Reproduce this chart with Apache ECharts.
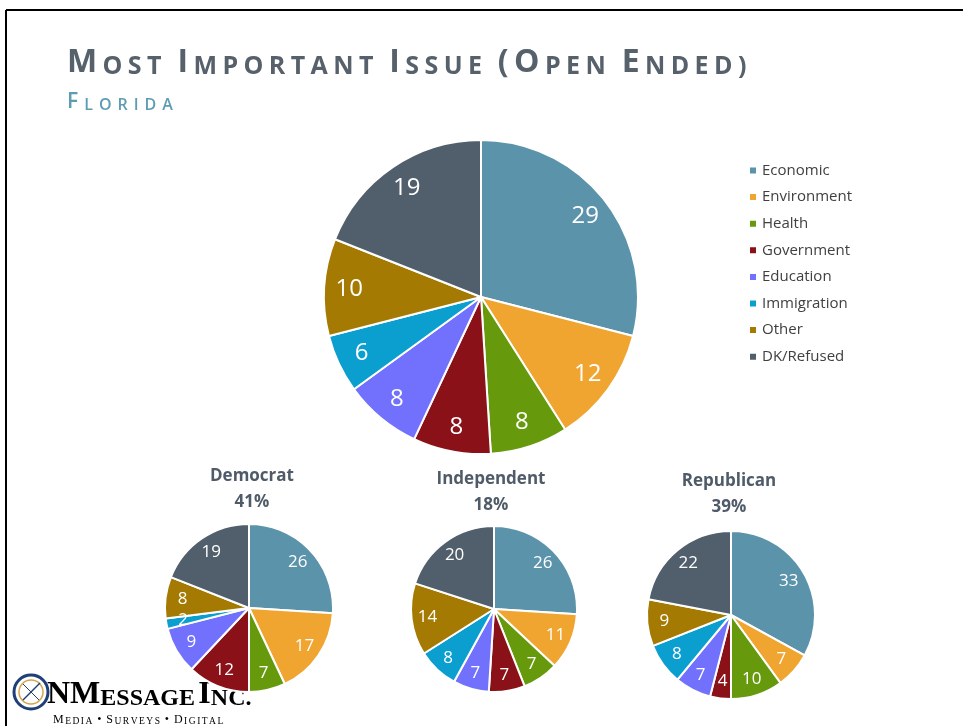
<!DOCTYPE html>
<html>
<head>
<meta charset="utf-8">
<script src="https://cdn.jsdelivr.net/npm/echarts@6/dist/echarts.min.js"></script>
<style>
  html, body { margin: 0; padding: 0; background: #fff; }
  #chart { width: 963px; height: 726px; }
</style>
</head>
<body>
<div id="chart"></div>
<script>
// 最重要议题（开放式）- 佛罗里达，总体 + 按党派
const categories = ['Economic', 'Environment', 'Health', 'Government', 'Education', 'Immigration', 'Other', 'DK/Refused'];
const palette = ['#5b93ab', '#f0a530', '#669a0c', '#8b1119', '#7171fd', '#0b9fd0', '#a47a02', '#515e6b'];

const florida = [29, 12, 8, 8, 8, 6, 10, 19];
const democrat = [26, 17, 7, 12, 9, 2, 8, 19];
const independent = [26, 11, 7, 7, 7, 8, 14, 20];
const republican = [33, 7, 10, 4, 7, 8, 9, 22];

const groupNames = ['Democrat', 'Independent', 'Republican'];
const groupShares = ['41%', '18%', '39%'];

const FONT = 'Open Sans';
const chart = echarts.init(document.getElementById('chart'));

function toData(values) {
    return values.map((v, i) => ({ name: categories[i], value: v }));
}

// 小型大写字母：每个词首字母用大号，其余用小号，逐字加间距
function smallCaps(str, bigSet) {
    let out = '';
    let wordStart = true;
    for (const ch of str) {
        if (ch === ' ') { out += '{sp| }'; wordStart = true; continue; }
        const big = wordStart || bigSet.includes(ch);
        out += (big ? '{b|' : '{s|') + ch.toUpperCase() + '}';
        if (ch !== '(') wordStart = false;
    }
    return out;
}

// 可见的饼图
function pieSeries(values, center, r) {
    return {
        type: 'pie',
        center: center,
        radius: [0, r],
        startAngle: 90,
        clockwise: true,
        silent: true,
        label: { show: false },
        labelLine: { show: false },
        itemStyle: { borderColor: '#fff', borderWidth: 2 },
        data: toData(values)
    };
}

// 透明的放大饼图，只用来把数字放到外圈附近
function labelSeries(values, center, r, size) {
    return {
        type: 'pie',
        center: center,
        radius: [0, r],
        startAngle: 90,
        clockwise: true,
        silent: true,
        z: 5,
        itemStyle: { color: 'rgba(0,0,0,0)', borderWidth: 0 },
        label: {
            show: true,
            position: 'inside',
            formatter: '{c}',
            color: '#fff',
            fontFamily: FONT,
            fontSize: size
        },
        labelLine: { show: false },
        data: toData(values)
    };
}

const pies = [
    { values: florida, center: [481, 297], r: 157, lr: 258, size: 24 },
    { values: democrat, center: [249, 608], r: 84, lr: 128, size: 17 },
    { values: independent, center: [494, 609], r: 83, lr: 128, size: 17 },
    { values: republican, center: [731, 615], r: 84, lr: 128, size: 17 }
];

const series = [];
pies.forEach(p => series.push(pieSeries(p.values, p.center, p.r)));
pies.forEach(p => series.push(labelSeries(p.values, p.center, p.lr, p.size)));

const groupX = [252, 491, 729];
const groupY = [476, 479, 481];
const groupText = [];
groupNames.forEach((g, i) => {
    groupText.push({
        type: 'text', x: groupX[i], y: groupY[i],
        style: { text: g, fill: '#4f5b68', font: 'bold 17px "Open Sans"', textAlign: 'center', textVerticalAlign: 'middle' }
    });
    groupText.push({
        type: 'text', x: groupX[i], y: groupY[i] + 26,
        style: { text: groupShares[i], fill: '#4f5b68', font: 'bold 17px "Open Sans"', textAlign: 'center', textVerticalAlign: 'middle' }
    });
});

const titleColor = '#57616c';
const subColor = '#5e9cb4';
const logoColor = '#1e3f78';

const option = {
    color: palette,
    animation: false,
    title: [{
        text: smallCaps('Most Important Issue (Open Ended)', ['(']),
        left: 67,
        top: 47,
        padding: 0,
        textStyle: {
            rich: {
                b: { fontFamily: FONT, fontSize: 32, color: titleColor, verticalAlign: 'bottom', padding: [0, 5.4, 0, 0] },
                s: { fontFamily: FONT, fontSize: 25, color: titleColor, verticalAlign: 'bottom', padding: [0, 5.4, 0, 0] },
                sp: { fontFamily: FONT, fontSize: 25, color: titleColor, verticalAlign: 'bottom', padding: [0, 4, 0, 0] }
            }
        }
    }, {
        text: smallCaps('Florida', []),
        left: 67,
        top: 92,
        padding: 0,
        textStyle: {
            rich: {
                b: { fontFamily: FONT, fontSize: 21, fontWeight: 600, color: subColor, verticalAlign: 'bottom', padding: [0, 6, 0, 0] },
                s: { fontFamily: FONT, fontSize: 16, fontWeight: 600, color: subColor, verticalAlign: 'bottom', padding: [0, 6, 0, 0] },
                sp: { fontFamily: FONT, fontSize: 16, color: subColor }
            }
        }
    }],
    legend: {
        orient: 'vertical',
        left: 743,
        top: 156,
        icon: 'rect',
        itemWidth: 8,
        itemHeight: 8,
        itemGap: 7.6,
        selectedMode: false,
        data: categories,
        textStyle: { fontFamily: FONT, fontSize: 15, color: '#404040', lineHeight: 19 }
    },
    graphic: [
        // 外框
        { type: 'line', shape: { x1: 6, y1: 10, x2: 963, y2: 10 }, style: { stroke: '#000', lineWidth: 2 } },
        { type: 'line', shape: { x1: 6, y1: 10, x2: 6, y2: 726 }, style: { stroke: '#000', lineWidth: 2 } },
        // Logo
        { type: 'circle', shape: { cx: 31, cy: 692, r: 17 }, style: { fill: 'none', stroke: logoColor, lineWidth: 3 } },
        { type: 'circle', shape: { cx: 31, cy: 692, r: 12 }, style: { fill: 'none', stroke: '#d3a64c', lineWidth: 1.5 } },
        { type: 'line', shape: { x1: 23, y1: 700, x2: 40, y2: 683 }, style: { stroke: logoColor, lineWidth: 1.5 } },
        { type: 'line', shape: { x1: 23, y1: 684, x2: 39, y2: 700 }, style: { stroke: logoColor, lineWidth: 1 } },
        { type: 'text', x: 47, y: 711, style: { text: '{b|N}{b|M}{s|ESSAGE} {b|I}{s|NC.}', textVerticalAlign: 'bottom',
            rich: {
                b: { fontFamily: 'Liberation Serif', fontWeight: 'bold', fontSize: 32, color: logoColor, verticalAlign: 'bottom' },
                s: { fontFamily: 'Liberation Serif', fontWeight: 'bold', fontSize: 24, color: logoColor, verticalAlign: 'bottom' }
            } } },
        { type: 'text', x: 53, y: 726, style: { text: smallCaps('Media • Surveys • Digital', []), textVerticalAlign: 'bottom',
            rich: {
                b: { fontFamily: 'Liberation Serif', fontSize: 12, color: logoColor, verticalAlign: 'bottom', padding: [0, 1.5, 0, 0] },
                s: { fontFamily: 'Liberation Serif', fontSize: 9.5, color: logoColor, verticalAlign: 'bottom', padding: [0, 1.5, 0, 0] },
                sp: { fontFamily: 'Liberation Serif', fontSize: 9.5, color: logoColor, padding: [0, 1, 0, 0] }
            } } }
    ].concat(groupText),
    series: series
};

chart.setOption(option);
</script>
</body>
</html>
